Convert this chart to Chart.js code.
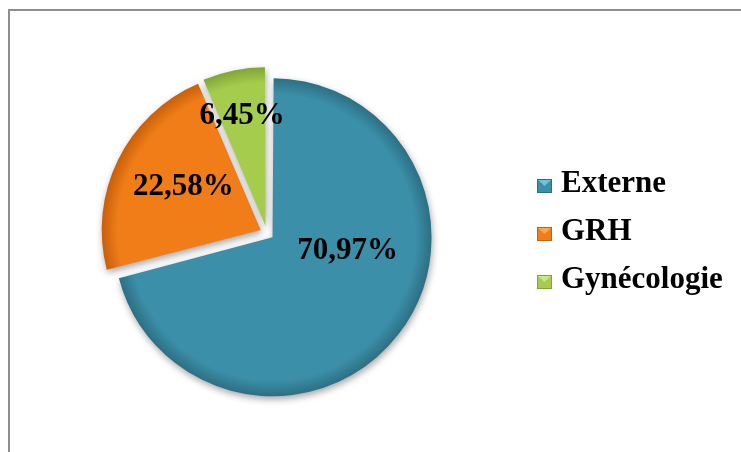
<!DOCTYPE html>
<html>
<head>
<meta charset="utf-8">
<script src="https://cdn.jsdelivr.net/npm/chart.js@4.4.1/dist/chart.umd.min.js"></script>
<style>
  html, body { margin: 0; padding: 0; background: #ffffff; overflow: hidden; }
  #wrap { position: relative; width: 741px; height: 452px; }
  #frame { position: absolute; left: 8px; top: 9px; width: 800px; height: 500px; border: 2px solid #8e8e8e; box-sizing: border-box; }
  #c { position: absolute; left: 0; top: 0; }
</style>
</head>
<body>
<div id="wrap">
  <div id="frame"></div>
  <canvas id="c" width="741" height="452"></canvas>
</div>
<script>
// ---- data ----
const categories = ["Externe", "GRH", "Gynécologie"];
const percentages = [70.97, 22.58, 6.45];
const valueLabels = ["70,97%", "22,58%", "6,45%"];
const sliceColors = ["#3b8fa8", "#f07d18", "#a6cc4e"];
const rimColors = ["#2c6f84", "#c95f0a", "#80a536"];
const lightColors = ["#6cc3dc", "#f9a85a", "#c8e884"];

// ---- style / placement ----
const PIE_R = 159;       // drawn radius
const EXPLODE = 7;       // px each slice is pulled out
const labelAnchors = [
  { angle: 102.7, ratio: 0.52 },
  { angle: 298.7, ratio: 0.60 },
  { angle: 347.9, ratio: 0.75 }
];
const FONT = "bold 31px 'Liberation Serif', 'Times New Roman', serif";

function sliceFill(ctx) {
  const chart = ctx.chart;
  const i = ctx.dataIndex;
  const ca = chart.chartArea;
  if (!ca) return sliceColors[i];
  const cx = (ca.left + ca.right) / 2, cy = (ca.top + ca.bottom) / 2;
  const g = chart.ctx.createRadialGradient(cx, cy, 0, cx, cy, PIE_R);
  g.addColorStop(0, sliceColors[i]);
  g.addColorStop(0.9, sliceColors[i]);
  g.addColorStop(1, rimColors[i]);
  return g;
}

// make every exploded slice keep the same radius (Chart.js enlarges by offset*fix)
const radiusPlugin = {
  id: 'evenRadius',
  beforeDatasetsDraw(chart) {
    const meta = chart.getDatasetMeta(0);
    meta.data.forEach(arc => {
      const circ = arc.endAngle - arc.startAngle;
      const fix = 1 - Math.sin(Math.min(Math.PI, circ));
      arc.outerRadius = PIE_R - EXPLODE * fix;
    });
    const ctx = chart.ctx;
    ctx.save();
    ctx.shadowColor = 'rgba(0,0,0,0.35)';
    ctx.shadowBlur = 7;
    ctx.shadowOffsetX = 1;
    ctx.shadowOffsetY = 3;
  },
  afterDatasetsDraw(chart) {
    chart.ctx.restore();
  }
};

const labelPlugin = {
  id: 'pctLabels',
  afterDatasetsDraw(chart) {
    const ctx = chart.ctx;
    const meta = chart.getDatasetMeta(0);
    ctx.save();
    ctx.font = FONT;
    ctx.fillStyle = '#000';
    ctx.textAlign = 'center';
    ctx.textBaseline = 'middle';
    meta.data.forEach((arc, i) => {
      const a = labelAnchors[i].angle * Math.PI / 180;
      const r = PIE_R * labelAnchors[i].ratio;
      const x = arc.x + Math.sin(a) * r;
      const y = arc.y - Math.cos(a) * r;
      ctx.fillText(valueLabels[i], x, y);
    });
    ctx.restore();
  }
};

const legendPlugin = {
  id: 'customLegend',
  afterDraw(chart) {
    const ctx = chart.ctx;
    const x0 = 537, y0 = 186, step = 48, bw = 15, bh = 14;
    ctx.save();
    ctx.font = FONT;
    ctx.textAlign = 'left';
    ctx.textBaseline = 'alphabetic';
    categories.forEach((name, i) => {
      const cy = y0 + i * step;
      const top = cy - bh / 2;
      ctx.fillStyle = sliceColors[i];
      ctx.fillRect(x0, top, bw, bh);
      // bevel: light top triangle
      ctx.fillStyle = lightColors[i];
      ctx.beginPath();
      ctx.moveTo(x0 + 1, top + 1);
      ctx.lineTo(x0 + bw - 1, top + 1);
      ctx.lineTo(x0 + bw / 2, top + bh / 2);
      ctx.closePath();
      ctx.fill();
      ctx.strokeStyle = rimColors[i];
      ctx.lineWidth = 1;
      ctx.strokeRect(x0 + 0.5, top + 0.5, bw - 1, bh - 1);
      ctx.fillStyle = '#000';
      ctx.fillText(name, 561, cy + 6);
    });
    ctx.restore();
  }
};

new Chart(document.getElementById('c'), {
  type: 'pie',
  data: {
    labels: categories,
    datasets: [{
      data: percentages,
      backgroundColor: sliceFill,
      borderWidth: 0,
      offset: EXPLODE * 4,
      radius: PIE_R
    }]
  },
  options: {
    responsive: false,
    animation: false,
    layout: { padding: { left: 0, right: 207, top: 14, bottom: 0 } },
    plugins: {
      legend: { display: false },
      tooltip: { enabled: false }
    }
  },
  plugins: [radiusPlugin, labelPlugin, legendPlugin]
});
</script>
</body>
</html>
